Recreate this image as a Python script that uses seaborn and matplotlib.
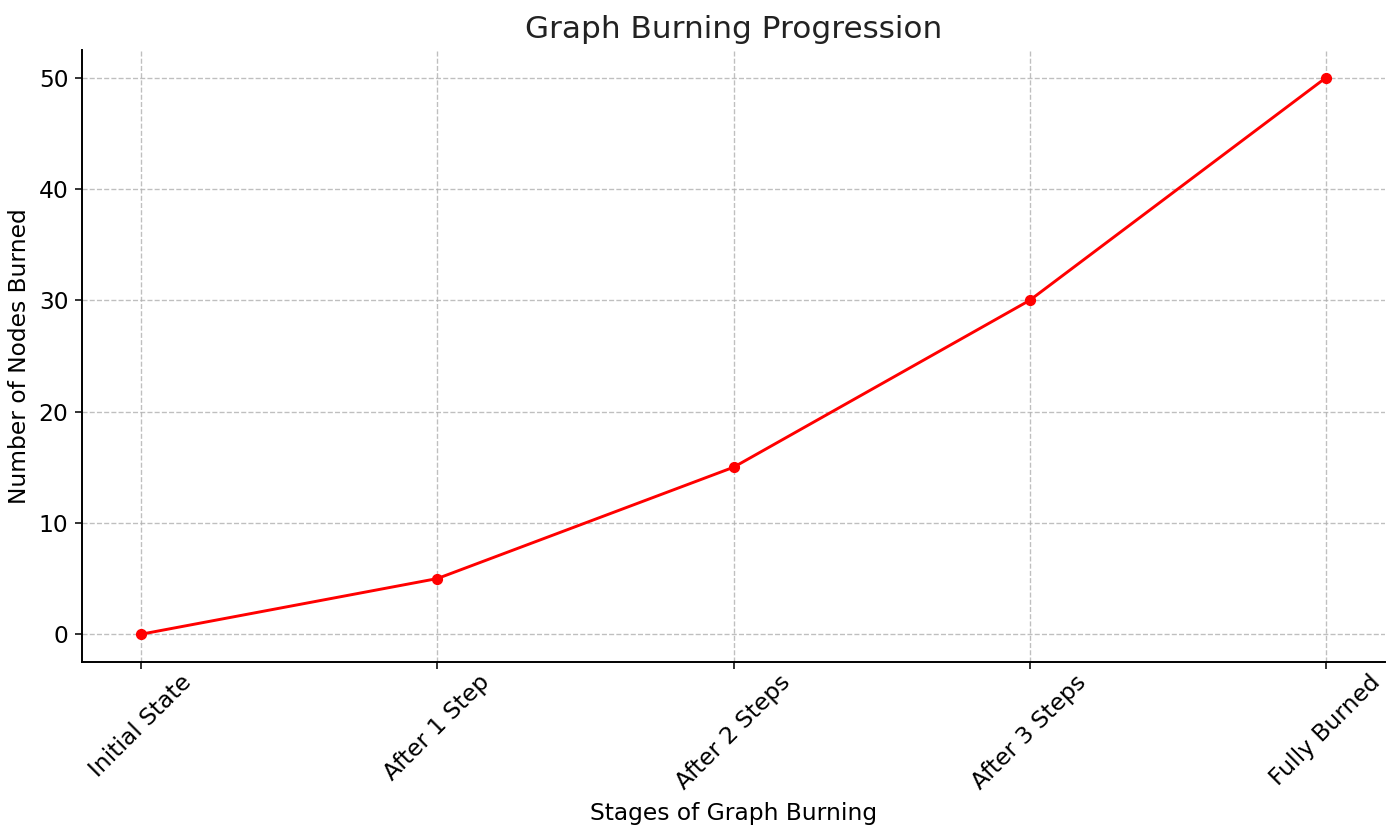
import matplotlib
matplotlib.use("Agg")
import matplotlib.pyplot as plt
import seaborn as sns
import pandas as pd

stages = ["Initial State", "After 1 Step", "After 2 Steps", "After 3 Steps", "Fully Burned"]
nodes_burned = [0, 5, 15, 30, 50]

sns.set_style("ticks")
plt.rcParams['font.family'] = ['DejaVu Sans']

df = pd.DataFrame({"stage": stages, "burned": nodes_burned})

fig, ax = plt.subplots(figsize=(10, 6), dpi=140)
sns.lineplot(data=df, x="stage", y="burned", marker="o", color="red",
             markeredgecolor="red", markersize=5, linewidth=1.5, ax=ax, sort=False)
ax.set_title("Graph Burning Progression", fontsize=16, color="#222222")
ax.set_xlabel("Stages of Graph Burning", fontsize=12, color="black")
ax.set_ylabel("Number of Nodes Burned", fontsize=12, color="black")
ax.grid(True, linestyle="--", color="#b0b0b0", linewidth=0.7, alpha=0.8)
ax.set_yticks([0, 10, 20, 30, 40, 50])
plt.setp(ax.get_xticklabels(), rotation=45)
sns.despine(ax=ax)
for s in ["left", "bottom"]:
    ax.spines[s].set_color("black")
    ax.spines[s].set_linewidth(1.0)
ax.tick_params(colors="black", labelsize=12, length=3.5, width=0.8)
ax.tick_params(axis="x", pad=1)
fig.subplots_adjust(left=82/1400, right=1385/1400, top=1-50/840, bottom=1-662/840)
fig.savefig("out.png", dpi=140)
